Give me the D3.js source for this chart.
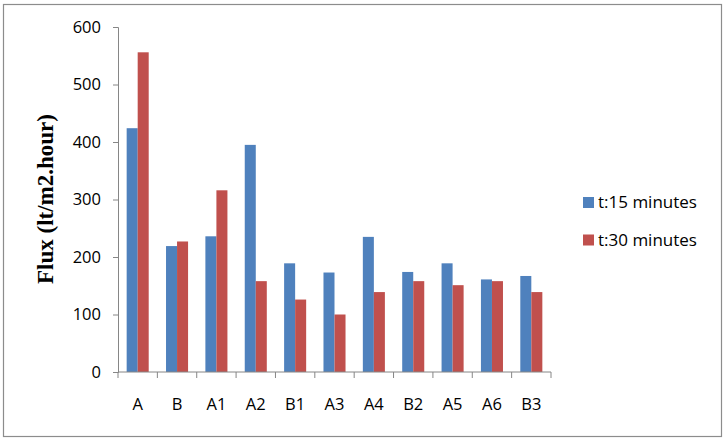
<!DOCTYPE html>
<html><head><meta charset="utf-8">
<script src="https://cdn.jsdelivr.net/npm/d3@7"></script>
<style>body{margin:0;background:#fff}</style>
</head><body>
<svg id="c" width="725" height="440"></svg>
<script>
const categories = ["A","B","A1","A2","B1","A3","A4","B2","A5","A6","B3"];
const t15 = [424,219,236,395,189,173,235,174,189,161,167];
const t30 = [556,227,316,158,126,100,139,158,151,158,139];
const seriesNames = ["t:15 minutes","t:30 minutes"];
const colors = ["#4F81BD","#C0504D"];
const yTicks = [0,100,200,300,400,500,600];

const svg = d3.select("#c");
svg.append("rect").attr("x",3.5).attr("y",4.5).attr("width",718).attr("height",432)
  .attr("fill","#fff").attr("stroke","#8c8c8c").attr("stroke-width",1.2);

const L=118, R=551, T=27, B=372;
const x = d3.scaleBand().domain(categories).range([L,R]).paddingInner(0.44).paddingOuter(0.22);
const xb = d3.scaleBand().domain(categories).range([L,R]);
const xs = d3.scaleBand().domain([0,1]).range([0,x.bandwidth()]);
const y = d3.scaleLinear().domain([0,600]).range([B,T]);
const font = "'Open Sans', 'Liberation Sans', sans-serif";
const fs = 16.5;

// y axis
const ya = svg.append("g").attr("transform",`translate(${L},0)`)
  .call(d3.axisLeft(y).tickValues(yTicks).tickSize(5).tickPadding(12));
ya.select(".domain").attr("stroke","#868686");
ya.selectAll(".tick line").attr("stroke","#868686");
ya.selectAll("text").attr("font-family",font).attr("font-size",fs).attr("fill","#000");

// bars
const series=[t15,t30];
series.forEach((vals,si)=>{
  svg.append("g").selectAll("rect").data(categories).join("rect")
    .attr("x",d=>x(d)+xs(si)).attr("width",xs.bandwidth())
    .attr("y",(d,i)=>y(vals[i])).attr("height",(d,i)=>B-y(vals[i]))
    .attr("fill",colors[si]);
});

// x axis
const xa = svg.append("g").attr("transform",`translate(0,${B})`);
xa.append("line").attr("x1",L).attr("x2",R).attr("stroke","#868686");
xa.selectAll("line.t").data(categories.concat(["end"])).join("line").attr("class","t")
  .attr("x1",(d,i)=>L+i*xb.step()).attr("x2",(d,i)=>L+i*xb.step())
  .attr("y1",0).attr("y2",6).attr("stroke","#868686");
xa.selectAll("text").data(categories).join("text")
  .attr("x",d=>xb(d)+xb.bandwidth()/2).attr("y",38)
  .attr("text-anchor","middle").attr("font-family",font).attr("font-size",fs).text(d=>d);

// y title
svg.append("text").attr("transform","translate(53,199) rotate(-90)")
  .attr("text-anchor","middle").attr("font-family","'Liberation Serif', serif")
  .attr("font-weight","bold").attr("font-size",23).text("Flux (lt/m2.hour)");

// legend
const lg = svg.append("g");
seriesNames.forEach((n,i)=>{
  const yy = 197 + i*37.5;
  lg.append("rect").attr("x",583).attr("y",yy).attr("width",11).attr("height",11).attr("fill",colors[i]);
  lg.append("text").attr("x",598).attr("y",yy+11).attr("font-family",font).attr("font-size",fs+0.5).text(n);
});
</script>
</body></html>
